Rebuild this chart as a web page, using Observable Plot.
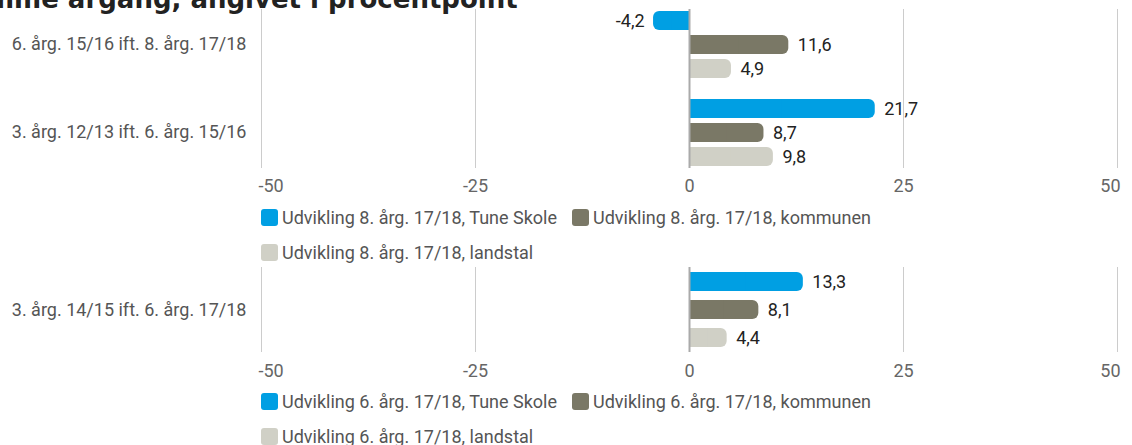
<!DOCTYPE html>
<html>
<head>
<meta charset="utf-8">
<script src="https://cdn.jsdelivr.net/npm/d3@7"></script>
<script src="https://cdn.jsdelivr.net/npm/@observablehq/plot@0.6"></script>
<style>
  html, body { margin: 0; padding: 0; background: #fff; }
  body { width: 1132px; height: 445px; position: relative; overflow: hidden; }
  #title { position: absolute; left: -13px; top: -14px; white-space: nowrap;
    font-family: "DejaVu Sans", sans-serif; font-weight: bold; font-size: 26px; line-height: 26px; color: #222; }
  .chart { position: absolute; left: 0; width: 1132px; }
  .chart svg { position: absolute; left: 0; top: 0; }
  .legend { position: absolute; left: 261px; width: 860px; display: flex; flex-wrap: wrap;
    font-family: Roboto, sans-serif; font-size: 18px; color: #555; }
  .item { display: flex; align-items: center; height: 35px; margin-right: 15px; white-space: nowrap; }
  .sw { width: 17px; height: 17px; border-radius: 3px; margin-right: 4px; }
</style>
</head>
<body>
<div id="title">mme årgang, angivet i procentpoint</div>
<div id="c1" class="chart" style="top:0px"></div>
<div id="l1" class="legend" style="top:200px"></div>
<div id="c2" class="chart" style="top:258px"></div>
<div id="l2" class="legend" style="top:384px"></div>
<script>
const groups1 = ["6. årg. 15/16 ift. 8. årg. 17/18", "3. årg. 12/13 ift. 6. årg. 15/16"];
const series1 = ["Udvikling 8. årg. 17/18, Tune Skole", "Udvikling 8. årg. 17/18, kommunen", "Udvikling 8. årg. 17/18, landstal"];
const values1 = [[-4.2, 11.6, 4.9], [21.7, 8.7, 9.8]];

const groups2 = ["3. årg. 14/15 ift. 6. årg. 17/18"];
const series2 = ["Udvikling 6. årg. 17/18, Tune Skole", "Udvikling 6. årg. 17/18, kommunen", "Udvikling 6. årg. 17/18, landstal"];
const values2 = [[13.3, 8.1, 4.4]];

const colors = ["#009fe3", "#7a7866", "#d0d0c6"];
const xTicks = [-50, -25, 0, 25, 50];

const fmt = v => String(v).replace(".", ",");

function chart(el, groups, series, values, o) {
  const data = groups.flatMap((g, i) => series.map((s, j) => ({group: g, series: s, value: values[i][j]})));
  const axisOpts = {tickSize: 0, tickPadding: 12, color: "#666", label: null, tickFormat: d => String(d)};
  const common = {
    width: 1132,
    height: o.height,
    marginLeft: 261,
    marginRight: 15,
    marginTop: 9,
    marginBottom: o.height - 9 - o.plotH,
    x: {domain: [xTicks[0], xTicks[xTicks.length - 1]]}
  };
  const bars = Plot.plot({
    ...common,
    y: {domain: series, paddingInner: o.yIn, paddingOuter: o.yOut, axis: null},
    fy: {domain: groups, paddingInner: o.fyIn, paddingOuter: 0, label: null},
    color: {domain: series, range: colors},
    style: {fontFamily: "Roboto, sans-serif", fontSize: "18px", color: "#555", background: "transparent", overflow: "visible"},
    marks: [
      Plot.barX(data, {fy: "group", y: "series", x: "value", fill: "series", rx: 6}),
      Plot.barX(data, {fy: "group", y: "series", x1: 0, x2: d => d.value / 2, fill: "series"}),
      Plot.text(data, {filter: d => d.value >= 0, fy: "group", y: "series", x: "value", text: d => fmt(d.value), textAnchor: "start", dx: 9, fill: "#222", fontSize: 18}),
      Plot.text(data, {filter: d => d.value < 0, fy: "group", y: "series", x: "value", text: d => fmt(d.value), textAnchor: "end", dx: -9, fill: "#222", fontSize: 18}),
      Plot.axisFy({anchor: "left", tickSize: 0, tickPadding: 15, label: null, color: "#555", fontSize: 18}),
      Plot.axisX(xTicks.slice(1, -1), axisOpts),
      Plot.axisX([xTicks[0]], {...axisOpts, textAnchor: "start", dx: -3}),
      Plot.axisX([xTicks[xTicks.length - 1]], {...axisOpts, textAnchor: "end", dx: 3})
    ]
  });
  // continuous gridlines and zero line spanning all groups
  const grid = Plot.plot({
    ...common,
    x: {...common.x, axis: null},
    style: {background: "transparent", overflow: "visible", pointerEvents: "none"},
    marks: [
      Plot.ruleX(xTicks.filter(t => t !== 0), {stroke: "#cccccc", strokeWidth: 1}),
      Plot.ruleX([0], {stroke: "#aaaaaa", strokeWidth: 2})
    ]
  });
  el.style.height = o.height + "px";
  el.appendChild(bars);
  el.appendChild(grid);
}

function legend(el, series) {
  series.forEach((s, i) => {
    const item = document.createElement("div");
    item.className = "item";
    const sw = document.createElement("div");
    sw.className = "sw";
    sw.style.background = colors[i];
    const t = document.createElement("span");
    t.textContent = s;
    item.appendChild(sw);
    item.appendChild(t);
    el.appendChild(item);
  });
}

chart(document.getElementById("c1"), groups1, series1, values1, {height: 200, plotH: 159, fyIn: 0.2, yIn: 0.21, yOut: 0.0625});
legend(document.getElementById("l1"), series1);
chart(document.getElementById("c2"), groups2, series2, values2, {height: 126, plotH: 85, fyIn: 0, yIn: 0.333, yOut: 0.158});
legend(document.getElementById("l2"), series2);
</script>
</body>
</html>
